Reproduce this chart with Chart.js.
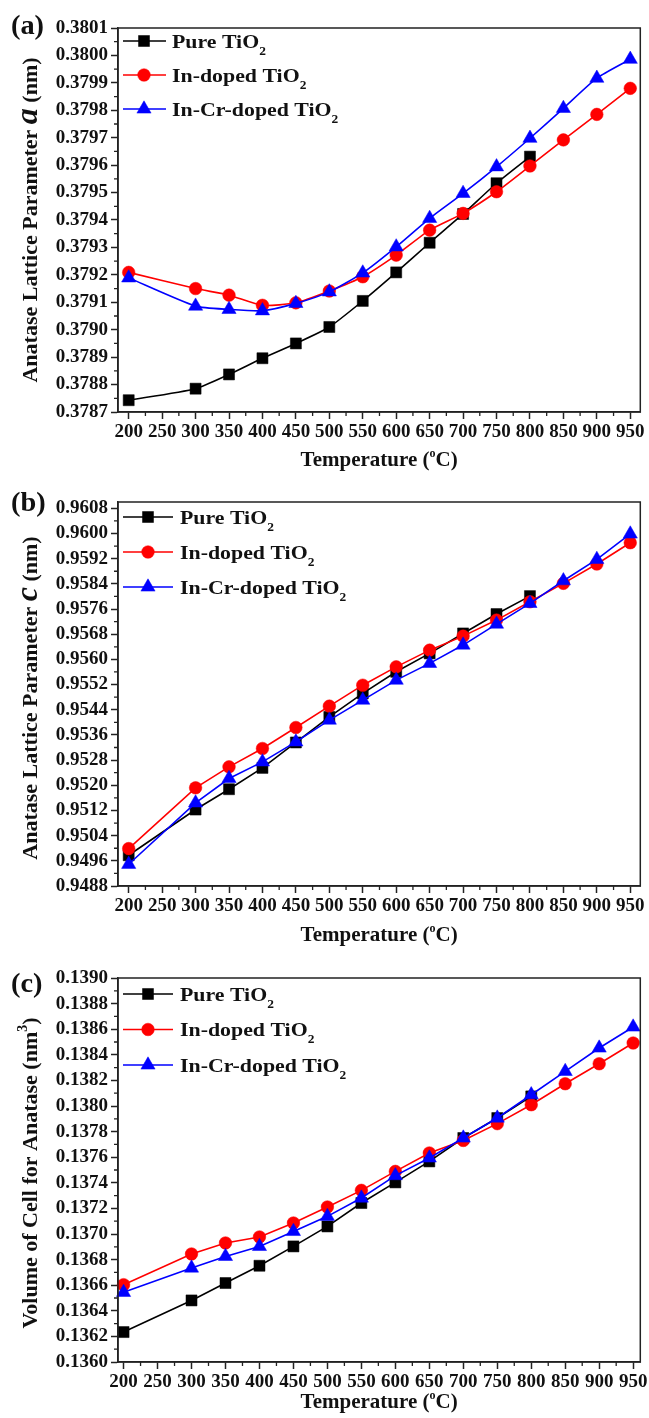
<!DOCTYPE html>
<html><head><meta charset="utf-8">
<script src="https://cdn.jsdelivr.net/npm/chart.js@4.4.1/dist/chart.umd.min.js"></script>
<style>
html,body{margin:0;padding:0;background:#fff;}
body{width:649px;height:1418px;position:relative;overflow:hidden;}
.panel{position:absolute;left:0;width:649px;}
canvas{display:block;}
</style></head><body>
<div class="panel" style="top:0px;height:473px"><canvas id="ca" width="649" height="473"></canvas></div>
<div class="panel" style="top:473px;height:473px"><canvas id="cb" width="649" height="473"></canvas></div>
<div class="panel" style="top:946px;height:472px"><canvas id="cc" width="649" height="472"></canvas></div>
<script>
// ---------- data ----------
const xTickLabels = [200,250,300,350,400,450,500,550,600,650,700,750,800,850,900,950];
const tempsAll  = [200,300,350,400,450,500,550,600,650,700,750,800,850,900,950];
const tempsPure = [200,300,350,400,450,500,550,600,650,700,750,800];
const seriesNames = ['Pure TiO', 'In-doped TiO', 'In-Cr-doped TiO'];

const pureA = [0.378743,0.378785,0.378837,0.378896,0.378950,0.379010,0.379105,0.379209,0.379317,0.379422,0.379534,0.379631];
const inA   = [0.379209,0.379150,0.379126,0.379089,0.379098,0.379141,0.379193,0.379272,0.379363,0.379424,0.379503,0.379597,0.379692,0.379785,0.379880];
const inCrA = [0.379189,0.379086,0.379074,0.379069,0.379096,0.379138,0.379207,0.379302,0.379406,0.379497,0.379594,0.379698,0.379807,0.379917,0.379986];

const pureB = [0.949776,0.951229,0.951875,0.952552,0.953360,0.954173,0.954918,0.955605,0.956190,0.956824,0.957440,0.958010];
const inB   = [0.949989,0.951920,0.952584,0.953169,0.953836,0.954514,0.955180,0.955762,0.956293,0.956739,0.957248,0.957830,0.958416,0.959030,0.959706];
const inCrB = [0.949490,0.951440,0.952216,0.952743,0.953379,0.954070,0.954705,0.955340,0.955872,0.956455,0.957120,0.957778,0.958498,0.959178,0.959984];

const pureC = [0.136234,0.136481,0.136617,0.136752,0.136903,0.137059,0.137242,0.137403,0.137567,0.137750,0.137906,0.138075];
const inC   = [0.136604,0.136844,0.136930,0.136977,0.137086,0.137211,0.137341,0.137489,0.137633,0.137731,0.137862,0.138010,0.138174,0.138330,0.138492];
const inCrC = [0.136544,0.136734,0.136825,0.136903,0.137020,0.137138,0.137281,0.137456,0.137594,0.137750,0.137906,0.138088,0.138270,0.138453,0.138617];

const yTicksA = [0.3787,0.3788,0.3789,0.3790,0.3791,0.3792,0.3793,0.3794,0.3795,0.3796,0.3797,0.3798,0.3799,0.3800,0.3801];
const yTicksB = [0.9488,0.9496,0.9504,0.9512,0.9520,0.9528,0.9536,0.9544,0.9552,0.9560,0.9568,0.9576,0.9584,0.9592,0.9600,0.9608];
const yTicksC = [0.1360,0.1362,0.1364,0.1366,0.1368,0.1370,0.1372,0.1374,0.1376,0.1378,0.1380,0.1382,0.1384,0.1386,0.1388,0.1390];

// ---------- style ----------
const FF = '"Liberation Serif","Times New Roman",serif';
const colors = ['#000000','#ff0000','#0000ff'];
const pStyles = ['rect','circle','triangle'];
const pRadius = [7.8,6.3,8.2];
const AX = '#222222';

function richWidth(ctx, segs){ let w=0; for(const s of segs){ ctx.font=s.font; w+=ctx.measureText(s.text).width; } return w; }
function drawRich(ctx, segs, x, y, sx){
  sx = sx || 1;
  ctx.save(); ctx.translate(x, y); ctx.scale(sx, 1);
  let cx=0; for(const s of segs){ ctx.font=s.font; ctx.fillText(s.text, cx, (s.dy||0)); cx+=ctx.measureText(s.text).width; }
  ctx.restore();
}

function makeChart(id, cfg){
  const cv = document.getElementById(id);
  const H = cv.height;
  const pt = cfg.plotTop - cfg.top, pb = cfg.plotBottom - cfg.top;
  const mk = (i, xs, ys) => ({
    label: seriesNames[i],
    data: xs.map((x,k)=>({x:x, y:ys[k]})),
    borderColor: colors[i], backgroundColor: colors[i],
    borderWidth: 1.6, pointStyle: pStyles[i], pointRadius: pRadius[i],
    pointBorderWidth: 0.5, pointBorderColor: colors[i], pointBackgroundColor: colors[i],
    tension: cfg.tension, clip: false, order: 3 - i
  });
  const deco = {
    id: 'deco',
    afterDraw(chart){
      const ctx = chart.ctx, ca = chart.chartArea, top = cfg.top;
      const xs = chart.scales.x, ys = chart.scales.y;
      ctx.save();
      // frame
      ctx.strokeStyle = AX; ctx.lineWidth = 1.5;
      ctx.strokeRect(ca.left, ca.top, ca.right-ca.left, ca.bottom-ca.top);
      // minor ticks
      ctx.lineWidth = 1.3;
      ctx.beginPath();
      for(let i=0;i<cfg.yTicks.length-1;i++){
        const v = (cfg.yTicks[i]+cfg.yTicks[i+1])/2, p = ys.getPixelForValue(v);
        ctx.moveTo(ca.left-4, p); ctx.lineTo(ca.left, p);
      }
      for(let i=0;i<xTickLabels.length-1;i++){
        const v = (xTickLabels[i]+xTickLabels[i+1])/2, p = xs.getPixelForValue(v);
        ctx.moveTo(p, ca.bottom); ctx.lineTo(p, ca.bottom+4);
      }
      ctx.stroke();
      // legend
      ctx.textBaseline = 'alphabetic'; ctx.textAlign = 'left';
      for(let i=0;i<3;i++){
        const y = cfg.legY[i] - top;
        ctx.strokeStyle = colors[i]; ctx.fillStyle = colors[i]; ctx.lineWidth = 1.6;
        ctx.beginPath(); ctx.moveTo(cfg.legX0, y); ctx.lineTo(cfg.legX1, y); ctx.stroke();
        ctx.lineWidth = 0.5;
        Chart.helpers.drawPoint(ctx, {pointStyle:pStyles[i], radius:pRadius[i], rotation:0, borderWidth:0.5}, cfg.legM, y);
        ctx.fillStyle = '#111';
        drawRich(ctx, [{text:seriesNames[i], font:'bold 19.5px '+FF},{text:'2', font:'bold 12px '+FF, dy:7}], cfg.legT, y+6.5, 1.12);
      }
      // panel label
      ctx.fillStyle = '#111';
      drawRich(ctx, [{text:cfg.label, font:'bold 27px '+FF}], 11, cfg.labelBase - top, 1.05);
      // x title
      const xt = [{text:'Temperature (', font:'bold 21px '+FF},{text:'o', font:'bold 12px '+FF, dy:-9},{text:'C)', font:'bold 21px '+FF}];
      const xw = richWidth(ctx, xt);
      drawRich(ctx, xt, (ca.left+ca.right)/2 - xw/2, cfg.xTitleBase - top);
      // y title
      const yw = richWidth(ctx, cfg.yTitle);
      ctx.translate(cfg.yTitleX, (ca.top+ca.bottom)/2 + cfg.yTitleShift);
      ctx.rotate(-Math.PI/2);
      drawRich(ctx, cfg.yTitle, -yw/2, 0);
      ctx.restore();
    }
  };
  return new Chart(cv, {
    type: 'line',
    data: { datasets: [ mk(0, tempsPure, cfg.pure), mk(1, tempsAll, cfg.inD), mk(2, tempsAll, cfg.inCr) ] },
    options: {
      responsive: false, animation: false, events: [],
      layout: { padding: { top: pt, right: 6, left: 0, bottom: 0 } },
      plugins: { legend: { display: false }, tooltip: { enabled: false } },
      scales: {
        x: {
          type: 'linear', min: cfg.xMin, max: cfg.xMax,
          afterFit(s){ s.height = H - pb; s.paddingLeft = 0; s.paddingRight = 0; },
          afterBuildTicks(s){ s.ticks = xTickLabels.map(v=>({value:v})); },
          ticks: { autoSkip:false, maxRotation:0, minRotation:0, padding:2, color:'#111',
                   font:{ family:FF, size:19, weight:'bold' }, callback: v => String(v) },
          grid: { display:true, drawOnChartArea:false, drawTicks:true, tickLength:7, tickColor:AX, tickWidth:1.5 },
          border: { display:true, color:AX, width:1.5 }
        },
        y: {
          type: 'linear', min: cfg.yMin, max: cfg.yMax,
          afterFit(s){ s.width = 118; s.paddingTop = 0; s.paddingBottom = 0; },
          afterBuildTicks(s){ s.ticks = cfg.yTicks.map(v=>({value:v})); },
          ticks: { autoSkip:false, padding:3, color:'#111',
                   font:{ family:FF, size:19, weight:'bold' }, callback: v => v.toFixed(4) },
          grid: { display:true, drawOnChartArea:false, drawTicks:true, tickLength:7, tickColor:AX, tickWidth:1.5 },
          border: { display:true, color:AX, width:1.5 }
        }
      }
    },
    plugins: [deco]
  });
}

const titleFont = 'bold 22px '+FF;
makeChart('ca', {
  top:0, plotTop:28, plotBottom:412, xMin:184, xMax:965, yMin:0.3787, yMax:0.3801, yTicks:yTicksA,
  pure:pureA, inD:inA, inCr:inCrA, tension:0.2,
  label:'(a)', labelBase:34, legY:[41,75,109], legX0:123, legX1:166, legM:144, legT:172, xTitleBase:466,
  yTitleX:37, yTitleShift:0,
  yTitle:[{text:'Anatase Lattice Parameter ', font:titleFont},{text:'a', font:'italic bold 32px '+FF},{text:' (nm)', font:titleFont}]
});
makeChart('cb', {
  top:473, plotTop:502, plotBottom:886, xMin:184, xMax:965, yMin:0.9488, yMax:0.9610, yTicks:yTicksB,
  pure:pureB, inD:inB, inCr:inCrB, tension:0,
  label:'(b)', labelBase:511, legY:[517,552,587], legX0:123, legX1:173, legM:148, legT:180, xTitleBase:941,
  yTitleX:37, yTitleShift:4,
  yTitle:[{text:'Anatase Lattice Parameter ', font:titleFont},{text:'c', font:'italic bold 32px '+FF},{text:' (nm)', font:titleFont}]
});
makeChart('cc', {
  top:946, plotTop:978, plotBottom:1362, xMin:191.8, xMax:960.5, yMin:0.1360, yMax:0.1390, yTicks:yTicksC,
  pure:pureC, inD:inC, inCr:inCrC, tension:0,
  label:'(c)', labelBase:992, legY:[994,1029.5,1065], legX0:123, legX1:173, legM:148, legT:180, xTitleBase:1408,
  yTitleX:37, yTitleShift:3,
  yTitle:[{text:'Volume of Cell for Anatase (nm', font:titleFont},{text:'3', font:'bold 14px '+FF, dy:-10},{text:')', font:titleFont}]
});
</script>
</body></html>
